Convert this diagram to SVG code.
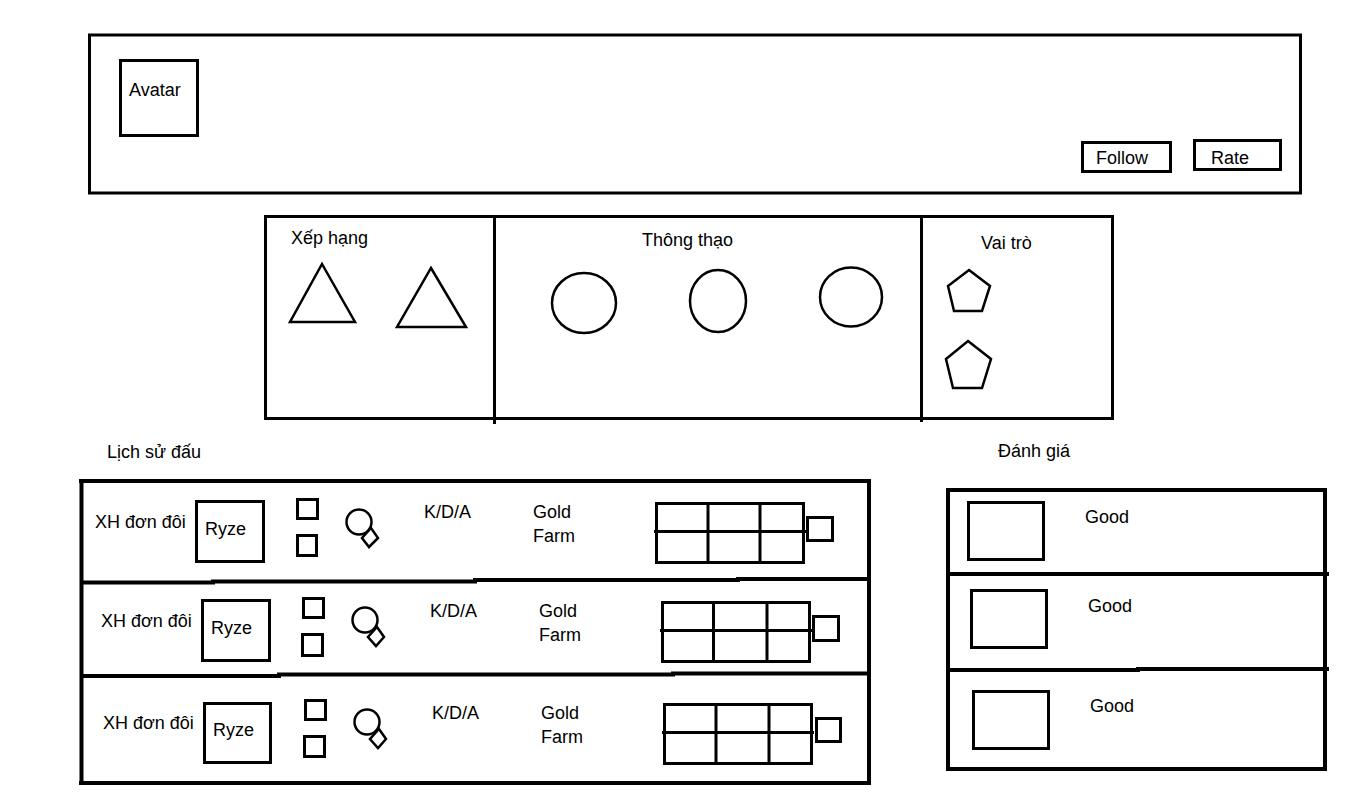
<svg xmlns="http://www.w3.org/2000/svg" width="1359" height="812" viewBox="0 0 1359 812">
<style>
.b{fill:none;stroke:#000;stroke-width:3}
.t{fill:none;stroke:#000;stroke-width:4}
.s{fill:none;stroke:#000;stroke-width:2.5}
text{font-family:"Liberation Sans",Arial,sans-serif;font-size:18px;fill:#000}
</style>
<rect width="1359" height="812" fill="#fff"/>
<g id="header">
<rect class="b" x="89.5" y="35" width="1211" height="158"/>
<g id="avatar"><rect class="b" x="120.5" y="60.5" width="77" height="75"/><text x="129" y="96">Avatar</text></g>
<g id="follow"><rect class="b" x="1082.5" y="142.5" width="88" height="29"/><text x="1096" y="164">Follow</text></g>
<g id="rate"><rect class="b" x="1194.5" y="140.5" width="86" height="29"/><text x="1211" y="164">Rate</text></g>
</g>
<g id="stats">
<rect class="b" x="265.5" y="216.5" width="847" height="202"/>
<line class="b" x1="494.5" y1="216" x2="494.5" y2="424"/>
<line class="b" x1="921.5" y1="216" x2="921.5" y2="422"/>
<g id="xephang"><text x="291" y="244">Xếp hạng</text>
<polygon class="s" points="322,264 355,322 290,322"/>
<polygon class="s" points="431,268 466,327 397,327"/></g>
<g id="thongthao"><text x="642" y="246">Thông thạo</text>
<ellipse class="s" cx="584" cy="303" rx="32" ry="30"/>
<ellipse class="s" cx="718" cy="301" rx="28" ry="31"/>
<ellipse class="s" cx="851" cy="297" rx="31" ry="29.5"/></g>
<g id="vaitro"><text x="981" y="249">Vai trò</text>
<polygon class="s" points="969,270 990,286 982,311 954,311 948,286"/>
<polygon class="s" points="968,341 991,359 982,388 953,388 946,359"/></g>
</g>
<g id="lichsu-label"><text x="107" y="458">Lịch sử đấu</text></g>
<g id="danhgia-label"><text x="998" y="457">Đánh giá</text></g>
<g id="history">
<line class="t" x1="79" y1="481" x2="871" y2="481"/>
<line class="t" x1="81.5" y1="479" x2="81.5" y2="785"/>
<line class="t" x1="869" y1="479" x2="869" y2="785"/>
<line class="t" x1="79" y1="783" x2="871" y2="783"/>
<polyline class="t" points="80,582.5 213,582.5 213,581.5 475,581.5 475,580 738,580 738,579 871,579"/>
<polyline class="t" points="80,676 279,676 279,674.5 673,674.5 673,673.5 871,673.5"/>
</g>
<g id="match1">
<text x="95" y="528">XH đơn đôi</text>
<rect class="b" x="196.5" y="501.5" width="67" height="60"/><text x="205" y="535">Ryze</text>
<rect class="b" x="297.5" y="499.5" width="20" height="19"/>
<rect class="b" x="297.5" y="535.5" width="19" height="20"/>
<circle class="s" cx="359" cy="522" r="12.5"/>
<polygon class="s" points="371,528 378,538 369,547 362,538"/>
<text x="424" y="518">K/D/A</text>
<text x="533" y="518">Gold</text><text x="533" y="542">Farm</text>
<rect class="b" x="656.5" y="503.5" width="147" height="59"/>
<line class="b" x1="708" y1="503" x2="708" y2="564"/>
<line class="b" x1="760" y1="503" x2="760" y2="563"/>
<line class="b" x1="654" y1="531.5" x2="807" y2="531.5"/>
<rect class="b" x="807.5" y="517.5" width="25" height="23"/>
</g>
<g id="match2">
<text x="101" y="627">XH đơn đôi</text>
<rect class="b" x="202.5" y="600.5" width="67" height="60"/><text x="211" y="634">Ryze</text>
<rect class="b" x="303.5" y="598.5" width="20" height="19"/>
<rect class="b" x="302.5" y="634.5" width="20" height="21"/>
<circle class="s" cx="365" cy="620" r="12.5"/>
<polygon class="s" points="377,627 384,637 376,646 368,637"/>
<text x="430" y="617">K/D/A</text>
<text x="539" y="617">Gold</text><text x="539" y="641">Farm</text>
<rect class="b" x="662.5" y="602.5" width="147" height="59"/>
<line class="b" x1="713.5" y1="602" x2="713.5" y2="663"/>
<line class="b" x1="767" y1="602" x2="767" y2="662"/>
<line class="b" x1="660" y1="630.5" x2="812" y2="630.5"/>
<rect class="b" x="813.5" y="616.5" width="25" height="24"/>
</g>
<g id="match3">
<text x="103" y="729">XH đơn đôi</text>
<rect class="b" x="204.5" y="703.5" width="66" height="59"/><text x="213" y="736">Ryze</text>
<rect class="b" x="305.5" y="700.5" width="20" height="19"/>
<rect class="b" x="304.5" y="736.5" width="20" height="20"/>
<circle class="s" cx="367" cy="722" r="12.5"/>
<polygon class="s" points="379,729 386,739 378,748 370,739"/>
<text x="432" y="719">K/D/A</text>
<text x="541" y="719">Gold</text><text x="541" y="743">Farm</text>
<rect class="b" x="664.5" y="704.5" width="147" height="59"/>
<line class="b" x1="716" y1="704" x2="716" y2="765"/>
<line class="b" x1="769" y1="704" x2="769" y2="764"/>
<line class="b" x1="662" y1="732.5" x2="814" y2="732.5"/>
<rect class="b" x="816.5" y="718.5" width="24" height="23"/>
</g>
<g id="ratings">
<rect class="t" x="948" y="490" width="377" height="279"/>
<line class="t" x1="947" y1="574" x2="1329" y2="574"/>
<polyline class="t" points="947,670 1138,670 1138,669 1329,669"/>
</g>
<g id="rating1"><rect class="b" x="968.5" y="502.5" width="75" height="57"/><text x="1085" y="523">Good</text></g>
<g id="rating2"><rect class="b" x="971.5" y="590.5" width="75" height="57"/><text x="1088" y="612">Good</text></g>
<g id="rating3"><rect class="b" x="973.5" y="691.5" width="75" height="57"/><text x="1090" y="712">Good</text></g>
</svg>
